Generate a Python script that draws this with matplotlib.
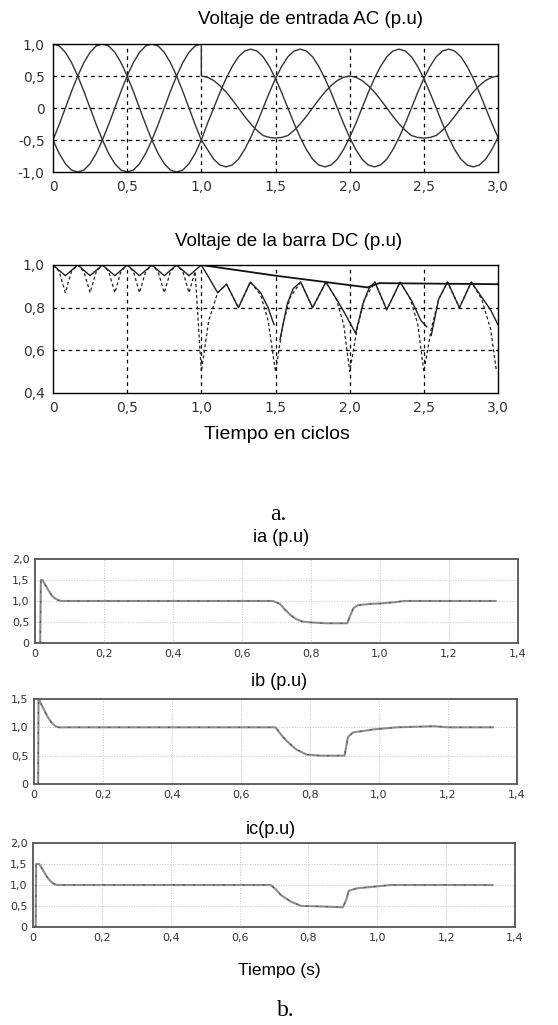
import numpy as np
import matplotlib
matplotlib.use("Agg")
import matplotlib.pyplot as plt

# ---- data ----
# (a) AC input voltage, sampled every 1/24 cycle, 0..3 cycles
t_ac = np.arange(73) / 24.0
va_pre = [1.0, .97, .87, .71, .5, .26, 0, -.26, -.5, -.71, -.87, -.97, -1.0, -.97, -.87, -.71,
          -.5, -.26, 0, .26, .5, .71, .87, .97, 1.0]
va_post = [.5, .48, .43, .35, .25, .13, 0, -.13, -.25, -.35, -.43, -.46, -.47, -.46, -.43, -.35,
           -.25, -.13, 0, .13, .25, .35, .43, .48,
           .5, .48, .43, .35, .25, .13, 0, -.13, -.25, -.35, -.43, -.46, -.47, -.46, -.43, -.35,
           -.25, -.13, 0, .13, .25, .35, .43, .48, .5]
vb = [-.5, -.26, 0, .26, .5, .71, .87, .97, 1.0, .97, .87, .71, .5, .26, 0, -.26, -.5, -.71,
      -.87, -.97, -1.0, -.97, -.87, -.71, -.5,
      -.24, 0, .24, .46, .65, .80, .89, .92, .89, .80, .65, .46, .24, 0, -.24, -.46, -.65, -.80,
      -.89, -.92, -.89, -.80, -.65, -.46,
      -.24, 0, .24, .46, .65, .80, .89, .92, .89, .80, .65, .46, .24, 0, -.24, -.46, -.65, -.80,
      -.89, -.92, -.89, -.80, -.65, -.46]
vc = [-.5, -.71, -.87, -.97, -1.0, -.97, -.87, -.71, -.5, -.26, 0, .26, .5, .71, .87, .97, 1.0,
      .97, .87, .71, .5, .26, 0, -.26, -.5,
      -.65, -.80, -.89, -.92, -.89, -.80, -.65, -.46, -.24, 0, .24, .46, .65, .80, .89, .92, .89,
      .80, .65, .46, .24, 0, -.24, -.46,
      -.65, -.80, -.89, -.92, -.89, -.80, -.65, -.46, -.24, 0, .24, .46, .65, .80, .89, .92, .89,
      .80, .65, .46, .24, 0, -.24, -.46]

# DC bus voltage
dc_cap_t = [0.0, 1.0, 1.5, 2.12, 2.2, 3.0]
dc_cap_v = [1.0, 1.0, 0.95, 0.895, 0.915, 0.91]

dc_bus_t = [0.0, 0.083, 0.167, 0.25, 0.333, 0.417, 0.5, 0.583, 0.667, 0.75, 0.833, 0.917, 1.0,
            1.06, 1.11, 1.17, 1.25, 1.33, 1.40, 1.45, 1.49, 1.51, 1.53, 1.58, 1.62, 1.67, 1.75,
            1.84, 1.92, 1.97, 2.04, 2.09, 2.13, 2.17, 2.25, 2.34, 2.42, 2.48, 2.52, 2.53, 2.55,
            2.60, 2.66, 2.74, 2.82, 2.90, 2.95, 3.0]
dc_bus_v = [1.0, 0.95, 1.0, 0.95, 1.0, 0.95, 1.0, 0.95, 1.0, 0.95, 1.0, 0.95, 1.0,
            0.93, 0.87, 0.91, 0.80, 0.92, 0.87, 0.80, 0.72, np.nan, 0.65, 0.82, 0.89, 0.92, 0.80,
            0.92, 0.83, 0.77, 0.68, 0.82, 0.89, 0.92, 0.79, 0.92, 0.83, 0.74, 0.71, np.nan, 0.67,
            0.84, 0.92, 0.80, 0.92, 0.84, 0.79, 0.72]

dc_rect_t = [0.0, 0.042, 0.083, 0.125, 0.167, 0.208, 0.25, 0.292, 0.333, 0.375, 0.417, 0.458,
             0.5, 0.542, 0.583, 0.625, 0.667, 0.708, 0.75, 0.792, 0.833, 0.875, 0.917, 0.958,
             1.0, 1.05, 1.11, 1.17, 1.25, 1.33, 1.40, 1.45, 1.5, 1.55, 1.6, 1.67, 1.75, 1.84,
             1.91, 1.96, 2.0, 2.05, 2.1, 2.17, 2.25, 2.34, 2.41, 2.46, 2.5, 2.55, 2.6, 2.66,
             2.74, 2.82, 2.89, 2.95, 2.99]
dc_rect_v = [1.0, .97, .87, .97, 1.0, .97, .87, .97, 1.0, .97, .87, .97,
             1.0, .97, .87, .97, 1.0, .97, .87, .97, 1.0, .97, .87, .97,
             0.5, 0.74, 0.87, 0.91, 0.80, 0.92, 0.86, 0.74, 0.5, 0.72, 0.85, 0.92, 0.80, 0.92,
             0.84, 0.72, 0.5, 0.70, 0.84, 0.92, 0.79, 0.92, 0.84, 0.72, 0.5, 0.70, 0.84, 0.92,
             0.80, 0.92, 0.84, 0.70, 0.5]

# (b) phase currents
ia_t = [0.015, 0.017, 0.022, 0.03, 0.04, 0.05, 0.06, 0.07, 0.08, 0.69, 0.71, 0.725, 0.74,
        0.757, 0.775, 0.8, 0.845, 0.905, 0.912, 0.923, 0.936, 0.97, 1.0, 1.04, 1.07, 1.335]
ia_v = [0, 1.5, 1.5, 1.38, 1.24, 1.12, 1.05, 1.01, 1.0, 1.0, 0.93, 0.79, 0.67, 0.57, 0.51,
        0.49, 0.47, 0.47, 0.62, 0.83, 0.9, 0.93, 0.94, 0.97, 1.0, 1.0]
ib_t = [0.012, 0.013, 0.02, 0.03, 0.04, 0.05, 0.06, 0.07, 0.7, 0.715, 0.732, 0.76, 0.79, 0.83,
        0.9, 0.91, 0.925, 0.98, 1.05, 1.16, 1.2, 1.33]
ib_v = [0, 1.5, 1.42, 1.3, 1.18, 1.09, 1.03, 1.0, 1.0, 0.88, 0.76, 0.61, 0.52, 0.5, 0.5, 0.83,
        0.91, 0.96, 1.0, 1.02, 1.0, 1.0]
ic_t = [0.008, 0.009, 0.018, 0.03, 0.04, 0.05, 0.06, 0.07, 0.69, 0.705, 0.72, 0.75, 0.78,
        0.835, 0.9, 0.91, 0.917, 0.94, 0.99, 1.04, 1.335]
ic_v = [0, 1.5, 1.5, 1.34, 1.2, 1.1, 1.03, 1.0, 1.0, 0.9, 0.76, 0.6, 0.5, 0.49, 0.47, 0.65,
        0.86, 0.92, 0.96, 1.0, 1.0]

# tick labels (comma decimals)
ac_xticks = [0, 0.5, 1.0, 1.5, 2.0, 2.5, 3.0]
ac_xlabels = ["0", "0,5", "1,0", "1,5", "2,0", "2,5", "3,0"]
ac_yticks = [-1.0, -0.5, 0, 0.5, 1.0]
ac_ylabels = ["-1,0", "-0,5", "0", "0,5", "1,0"]
dc_yticks = [0.4, 0.6, 0.8, 1.0]
dc_ylabels = ["0,4", "0,6", "0,8", "1,0"]
i_xticks = [0, 0.2, 0.4, 0.6, 0.8, 1.0, 1.2, 1.4]
i_xlabels = ["0", "0,2", "0,4", "0,6", "0,8", "1,0", "1,2", "1,4"]
i_yticks = [0, 0.5, 1.0, 1.5, 2.0]
i_ylabels = ["0", "0,5", "1,0", "1,5", "2,0"]

W, H = 558, 1025
plt.rcParams.update({"font.family": ["DejaVu Sans"]})
fig = plt.figure(figsize=(W / 100, H / 100), dpi=100)
fig.patch.set_facecolor("white")


def rect(l, t, r, b):
    return [l / W, 1 - b / H, (r - l) / W, (b - t) / H]


def ftext(x, y, s, size, family="Liberation Sans", **kw):
    fig.text(x / W, 1 - y / H, s, ha="center", va="center", fontsize=size,
             family=family, **kw)


GRID_TOP = dict(color="black", lw=0.9, ls=(0, (3, 3)))


def style_top(ax):
    for sp in ax.spines.values():
        sp.set_color("black")
        sp.set_linewidth(1.0)
    ax.tick_params(length=0, labelsize=10, pad=6, colors="#333")
    ax.set_xlim(0, 3)
    ax.set_xticks(ac_xticks, ac_xlabels)


# --- AC input voltage ---
ax1 = fig.add_axes(rect(53, 44, 498, 172))
style_top(ax1)
ax1.set_ylim(-1, 1)
ax1.set_yticks(ac_yticks, ac_ylabels)
for x in ac_xticks[1:-1]:
    ax1.axvline(x, **GRID_TOP)
for y in ac_yticks[1:-1]:
    ax1.axhline(y, **GRID_TOP)
t_a = np.r_[t_ac[:25], t_ac[24:]]
ax1.plot(t_a, va_pre + va_post, color="#333", lw=1.0)
ax1.plot(t_ac, vb, color="#333", lw=1.0)
ax1.plot(t_ac, vc, color="#333", lw=1.0)

# --- DC bus voltage ---
ax2 = fig.add_axes(rect(53, 265, 498, 393))
style_top(ax2)
ax2.set_ylim(0.4, 1.0)
ax2.set_yticks(dc_yticks, dc_ylabels)
for x in ac_xticks[1:-1]:
    ax2.axvline(x, **GRID_TOP)
for y in dc_yticks[1:-1]:
    ax2.axhline(y, **GRID_TOP)
ax2.plot(dc_rect_t, dc_rect_v, color="#222", lw=0.9, ls=(0, (2.5, 2)))
ax2.plot(dc_bus_t, dc_bus_v, color="#222", lw=1.0)
ax2.plot(dc_cap_t, dc_cap_v, color="#111", lw=1.3)

# --- phase currents ---
def style_cur(ax, ymax):
    for sp in ax.spines.values():
        sp.set_color("#555")
        sp.set_linewidth(1.3)
    ax.set_xlim(0, 1.4)
    ax.set_ylim(0, ymax)
    ax.set_xticks(i_xticks, i_xlabels)
    n = 5 if ymax == 2.0 else 4
    ax.set_yticks(i_yticks[:n], i_ylabels[:n])
    ax.tick_params(length=0, labelsize=8, pad=4, colors="#333")
    ax.grid(True, color="#c4c4c4", lw=0.7, ls=":")
    ax.set_axisbelow(True)


for (l, t, r, b), tt, vv, ym in [((35, 559, 518, 643), ia_t, ia_v, 2.0),
                                 ((34, 699, 517, 784), ib_t, ib_v, 1.5),
                                 ((33, 843, 515, 927), ic_t, ic_v, 2.0)]:
    ax = fig.add_axes(rect(l, t, r, b))
    style_cur(ax, ym)
    ax.plot(tt, vv, color="#8c8c8c", lw=1.5)
    ax.plot(tt, vv, color="#555", lw=0.8, ls=(0, (2, 7)))

# --- texts ---
ftext(311, 20, "Voltaje de entrada AC (p.u)", 13.5)
ftext(289, 242, "Voltaje de la barra DC (p.u)", 13.5)
ftext(277, 435, "Tiempo en ciclos", 14)
ftext(278, 515, "a.", 17, family="Liberation Serif")
ftext(281, 538, "ia (p.u)", 13)
ftext(279, 682, "ib (p.u)", 13)
ftext(271, 830, "ic(p.u)", 13)
ftext(279, 970, "Tiempo (s)", 12.5)
ftext(286, 1010, "b.", 17, family="Liberation Serif")

fig.savefig("out.png", dpi=100, facecolor="white")
